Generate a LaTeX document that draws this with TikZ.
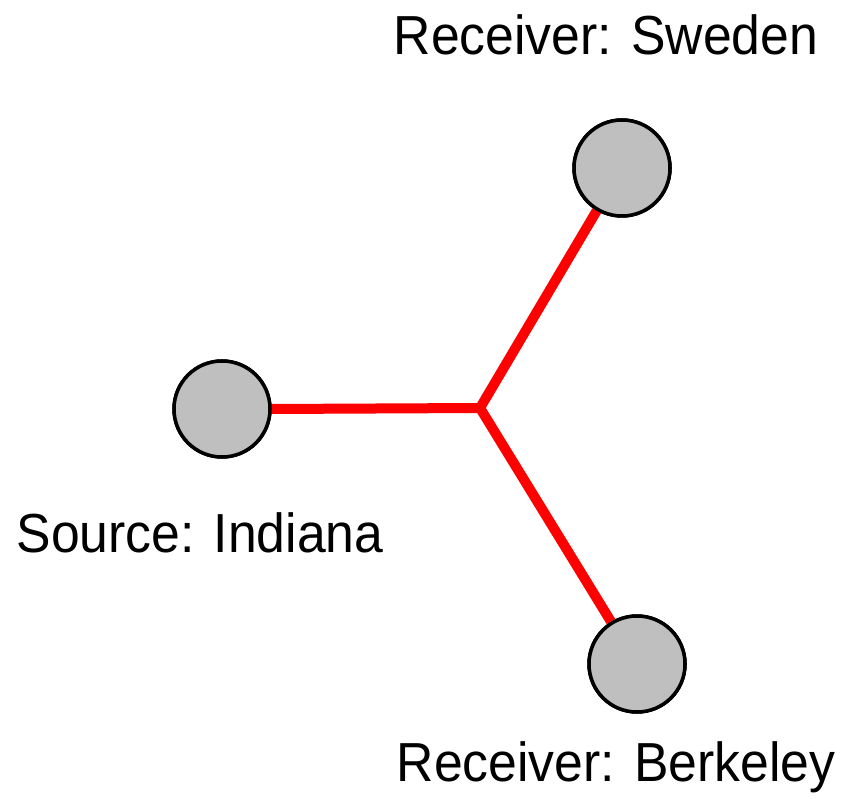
\documentclass[tikz,border=0pt]{standalone}
\usepackage{fontspec}
\setmainfont{Liberation Sans}
\newcommand{\sitetext}[1]{\scalebox{0.94}[1]{#1}}
\begin{document}
\begin{tikzpicture}[x=1pt,y=1pt,
  site/.style={circle, draw=black, line width=3.5pt, fill=black!25, minimum size=96pt, inner sep=0pt},
  link/.style={draw=red, line width=10pt},
  sitelabel/.style={anchor=base, inner sep=0pt, font=\fontsize{55}{64}\selectfont}]
  \useasboundingbox (0,0) rectangle (842,798);
  % branching point of the tree
  \coordinate (hub) at (480,390);
  % sites
  \node[site] (indiana) at (222,389) {};
  \node[site] (sweden) at (622,630) {};
  \node[site] (berkeley) at (637,134) {};
  % links, then the circles again on top of them
  \draw[link] (indiana.east) -- (hub);
  \draw[link, line join=miter] (sweden) -- (hub) -- (berkeley);
  \node[site] at (indiana) {};
  \node[site] at (sweden) {};
  \node[site] at (berkeley) {};
  % labels
  \node[sitelabel] (lsweden) at (606,743) {\sitetext{Receiver: Sweden}};
  \node[sitelabel] (lindiana) at (200,246) {\sitetext{Source: Indiana}};
  \node[sitelabel] (lberkeley) at (616,17) {\sitetext{Receiver: Berkeley}};
\end{tikzpicture}
\end{document}
